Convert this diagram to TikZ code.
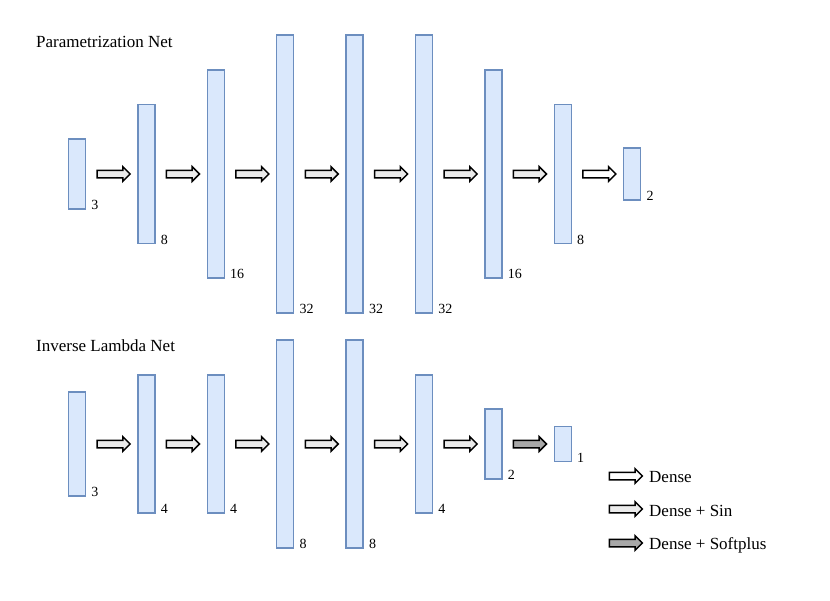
\documentclass[tikz,border=0pt]{standalone}
\usepackage{fontspec}
\setmainfont{Liberation Serif}
\usetikzlibrary{shapes.arrows,calc}
\definecolor{boxfill}{HTML}{DAE8FC}
\definecolor{boxline}{HTML}{6C8EBF}
\definecolor{sinfill}{HTML}{EBEBEB}
\definecolor{spfill}{HTML}{A8A8A8}
\tikzset{
  layerbox/.style={draw=boxline, fill=boxfill, line width=1.4pt, minimum width=17pt, inner sep=0pt},
  numlbl/.style={anchor=base west, inner sep=0pt, font=\fontsize{14}{16}\selectfont},
  title/.style={anchor=base west, inner sep=0pt, font=\fontsize{17}{20}\selectfont},
  legtxt/.style={anchor=base west, inner sep=0pt, font=\fontsize{17}{20}\selectfont},
  arr/.style={single arrow, draw=black, line width=1.5pt, inner sep=3pt, minimum height=33pt,
    single arrow head extend=3.5pt, single arrow tip angle=90, single arrow head indent=0pt},
  arrdense/.style={arr, fill=white},
  arrsin/.style={arr, fill=sinfill},
  arrsp/.style={arr, fill=spfill},
}
\begin{document}
\begin{tikzpicture}[x=1pt,y=-1pt]
\useasboundingbox (0,0) rectangle (830,600);
\node[title] (t1) at (36,47) {Parametrization Net};
\node[title] (t2) at (36,351) {Inverse Lambda Net};
% top row
\foreach \i/\h/\n in {1/70/3, 2/139/8, 3/208/16, 4/278/32, 5/278/32, 6/278/32, 7/208/16, 8/139/8, 9/52/2} {
  \node[layerbox, minimum height=\h pt] (p\i) at ({77+69.4*(\i-1)},174) {};
  \node[numlbl] (pl\i) at ([xshift=5pt]p\i.south east) {\n};
}
\foreach \a/\b in {1/2,2/3,3/4,4/5,5/6,6/7,7/8} {
  \node[arrsin] (pa\a) at ($(p\a.east)!0.5!(p\b.west)$) {};
}
\node[arrdense] (pa8) at ($(p8.east)!0.5!(p9.west)$) {};
% bottom row
\foreach \i/\h/\n in {1/104/3, 2/138/4, 3/138/4, 4/208/8, 5/208/8, 6/138/4, 7/70/2, 8/35/1} {
  \node[layerbox, minimum height=\h pt] (q\i) at ({77+69.4*(\i-1)},444) {};
  \node[numlbl] (ql\i) at ([xshift=5pt]q\i.south east) {\n};
}
\foreach \a/\b in {1/2,2/3,3/4,4/5,5/6,6/7} {
  \node[arrsin] (qa\a) at ($(q\a.east)!0.5!(q\b.west)$) {};
}
\node[arrsp] (qa7) at ($(q7.east)!0.5!(q8.west)$) {};
% legend
\node[arrdense] (l1) at (624,476) {};
\node[legtxt] (lt1) at (649,482) {Dense};
\node[arrsin] (l2) at (624,509) {};
\node[legtxt] (lt2) at (649,516) {Dense + Sin};
\node[arrsp] (l3) at (624,543) {};
\node[legtxt] (lt3) at (649,549) {Dense + Softplus};
\end{tikzpicture}
\end{document}
